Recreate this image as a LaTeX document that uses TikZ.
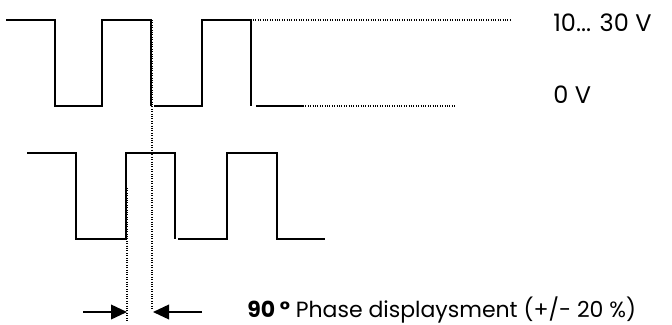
\documentclass[tikz,border=0pt]{standalone}
\usepackage{fontspec}
\setmainfont{Poppins}
\usetikzlibrary{arrows.meta}
\tikzset{
  sig/.style={line width=1.5pt},
  guide/.style={line width=0.9pt,dash pattern=on 0.8pt off 1pt},
  label/.style={anchor=base west,inner sep=0pt,font=\fontsize{18}{21}\selectfont}
}
\begin{document}
\begin{tikzpicture}[x=0.75pt,y=-0.75pt]
\useasboundingbox (0,0) rectangle (672,325);
% channel A
\draw[sig] (6,20) -- (55,20) -- (55,106) -- (102,106) -- (102,20) -- (151,20) -- (151,106);
\draw[sig] (154,106) -- (202,106) -- (202,20) -- (251,20) -- (251,106);
\draw[sig] (256,106) -- (303,106);
% channel B
\draw[sig] (27,153) -- (76,153) -- (76,239) -- (126,239) -- (126,153) -- (175,153) -- (175,239);
\draw[sig] (178,239) -- (227,239) -- (227,153) -- (277,153) -- (277,239) -- (325,239);
% levels
\node[label] (high) at (553,31) {10... 30 V};
\node[label] (low) at (553,103) {0 V};
\draw[guide] (253,20) -- (512,20);
\draw[guide] (303,106) -- (455,106);
% edges
\coordinate (edgeA) at (152,20);
\coordinate (edgeAend) at (152,310);
\coordinate (edgeB) at (127,188);
\coordinate (edgeBend) at (127,322);
\draw[guide] (edgeA) -- (edgeAend);
\draw[guide] (edgeB) -- (edgeBend);
% phase
\coordinate (arrL) at (83,312);
\coordinate (arrR) at (202,312);
\draw[line width=1.2pt,-{Triangle[length=12pt,width=11pt]}] (arrL) -- (edgeB |- arrL);
\draw[line width=1.2pt,-{Triangle[length=12pt,width=11pt]}] (arrR) -- (153,312);
\node[label,font=\fontsize{16.5}{20}\selectfont] (phase) at (247,317) {{\bfseries 90 °} Phase displaysment (+/- 20 \%)};
\end{tikzpicture}
\end{document}
